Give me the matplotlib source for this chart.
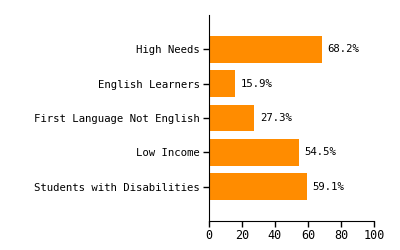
import matplotlib
matplotlib.use("Agg")
import matplotlib.pyplot as plt

# Données
categories = ["Students with Disabilities", "Low Income",
              "First Language Not English", "English Learners", "High Needs"]
values = [59.1, 54.5, 27.3, 15.9, 68.2]
x_ticks = [0, 20, 40, 60, 80, 100]

plt.rcParams['font.family'] = ['DejaVu Sans Mono']

fig = plt.figure(figsize=(4, 2.5), dpi=100)
ax = fig.add_axes([0.5225, 0.116, 0.4125, 0.824])

pos = range(len(categories))
ax.barh(pos, values, height=0.78, color='#FF8C00')
for y, v in zip(pos, values):
    ax.text(v + 3.5, y, f"{v:.1f}%", va='center', ha='left', fontsize=7.7)

ax.set_xlim(0, 100)
ax.set_ylim(-1, 5)
ax.set_xticks(x_ticks)
ax.set_yticks(list(pos))
ax.set_yticklabels(categories)
ax.tick_params(axis='y', labelsize=7.7, length=4, width=1, pad=2.5)
ax.tick_params(axis='x', labelsize=8.5, length=4, width=1, pad=2)
ax.spines['top'].set_visible(False)
ax.spines['right'].set_visible(False)

fig.savefig("out.png", dpi=100)
